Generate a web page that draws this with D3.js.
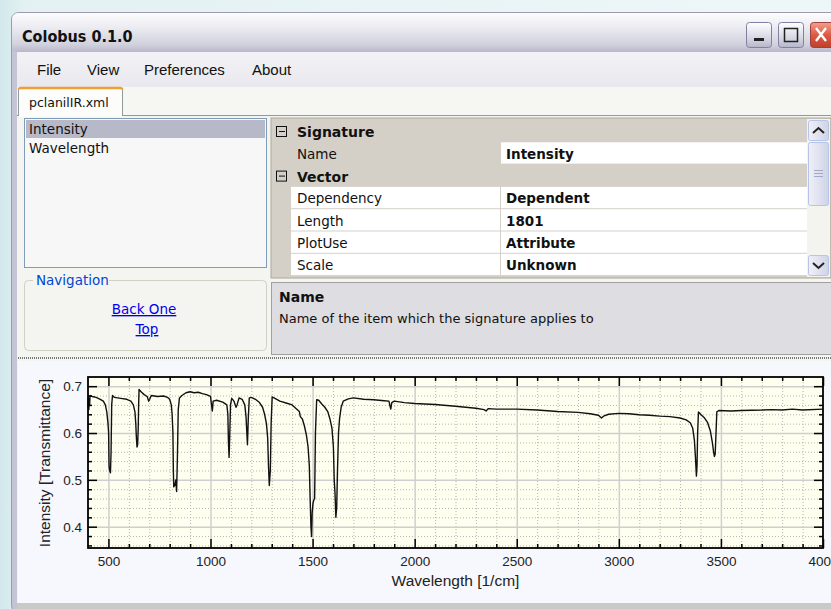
<!DOCTYPE html>
<html><head><meta charset="utf-8">
<script src="https://cdn.jsdelivr.net/npm/d3@7"></script>
<style>body{margin:0;overflow:hidden;background:#e8f4f6}svg{display:block}</style>
</head><body><svg id="c" width="831" height="609"></svg>
<script>
// ---------- data ----------
const wavenumbers = [400,402,404,406,408,410,420,440,460,475,485,492,498,501,503,506,510,513,516,520,530,560,590,610,622,630,634,637,640,643,646,648,650,660,675,690,697,702,710,740,770,790,800,808,812,816,818,820,826,830,834,838,842,848,860,880,900,920,940,960,980,1000,1005,1009,1013,1030,1060,1080,1085,1088,1091,1094,1098,1104,1115,1125,1130,1140,1155,1168,1174,1178,1181,1185,1190,1200,1220,1240,1255,1265,1274,1280,1284,1288,1293,1297,1302,1320,1340,1370,1400,1420,1435,1440,1450,1460,1470,1478,1484,1488,1492,1495,1498,1502,1506,1510,1514,1520,1530,1545,1560,1575,1585,1595,1602,1606,1610,1614,1618,1622,1627,1632,1640,1650,1675,1700,1750,1800,1850,1874,1879,1883,1888,1900,1950,2000,2100,2200,2300,2340,2350,2360,2400,2500,2600,2700,2800,2860,2900,2915,2925,2950,3000,3050,3100,3150,3200,3250,3300,3330,3350,3362,3370,3375,3380,3383,3386,3390,3400,3420,3435,3448,3458,3464,3468,3472,3476,3480,3490,3550,3600,3700,3750,3800,3850,3900,4000];
const intensity = [0.655,0.675,0.650,0.672,0.660,0.680,0.678,0.676,0.672,0.668,0.660,0.645,0.620,0.600,0.530,0.520,0.515,0.560,0.660,0.680,0.676,0.674,0.672,0.668,0.660,0.645,0.620,0.590,0.570,0.575,0.610,0.660,0.693,0.688,0.682,0.678,0.668,0.672,0.680,0.678,0.679,0.676,0.672,0.660,0.640,0.600,0.520,0.485,0.490,0.500,0.475,0.550,0.650,0.675,0.680,0.686,0.688,0.686,0.687,0.684,0.682,0.678,0.660,0.647,0.668,0.670,0.666,0.660,0.640,0.580,0.548,0.590,0.660,0.674,0.668,0.655,0.660,0.675,0.672,0.660,0.635,0.600,0.575,0.630,0.675,0.676,0.672,0.665,0.655,0.640,0.620,0.590,0.530,0.488,0.520,0.620,0.677,0.673,0.668,0.664,0.660,0.652,0.646,0.635,0.630,0.615,0.595,0.570,0.530,0.460,0.400,0.379,0.430,0.450,0.457,0.460,0.600,0.671,0.670,0.662,0.655,0.645,0.630,0.610,0.570,0.500,0.470,0.420,0.440,0.520,0.600,0.630,0.655,0.668,0.673,0.675,0.672,0.671,0.669,0.668,0.658,0.651,0.665,0.668,0.665,0.663,0.661,0.657,0.653,0.650,0.647,0.652,0.651,0.651,0.649,0.646,0.644,0.641,0.638,0.632,0.636,0.640,0.642,0.641,0.639,0.638,0.636,0.635,0.632,0.628,0.622,0.610,0.585,0.550,0.508,0.530,0.600,0.645,0.640,0.632,0.622,0.605,0.580,0.560,0.550,0.555,0.600,0.645,0.648,0.647,0.648,0.649,0.650,0.649,0.651,0.649,0.651];
const xTicks = [500,1000,1500,2000,2500,3000,3500,4000];
const yTicks = [0.4,0.5,0.6,0.7];
const xLabel = "Wavelength [1/cm]";
const yLabel = "Intensity [Transmittance]";
const menuItems = ["File","View","Preferences","About"];
const listItems = ["Intensity","Wavelength"];
const gridLabels = ["Signature","Name","Vector","Dependency","Length","PlotUse","Scale"];
const gridValues = [null,"Intensity",null,"Dependent","1801","Attribute","Unknown"];

// ---------- svg & chrome ----------
const svg = d3.select("#c");
const defs = svg.append("defs");
function grad(id, stops, vertical=true){
  const g = defs.append("linearGradient").attr("id",id)
    .attr("x1",0).attr("y1",0).attr("x2",vertical?0:1).attr("y2",vertical?1:0);
  stops.forEach(s=>g.append("stop").attr("offset",s[0]).attr("stop-color",s[1]));
}
grad("desk",[[0,"#d3e8ec"],[0.03,"#e3f1f3"],[1,"#eef7f8"]],false);
grad("title",[[0,"#fdfdfe"],[0.35,"#ececf2"],[0.8,"#d2d2de"],[1,"#b8b8ca"]]);
grad("btn",[[0,"#ffffff"],[0.6,"#d8d8e6"],[1,"#b6b6cc"]]);
grad("close",[[0,"#f3a08c"],[0.5,"#dc5a44"],[1,"#c0402c"]]);
grad("menu",[[0,"#f2f2f6"],[1,"#e8e8ee"]]);
grad("sbar",[[0,"#f0f0f8"],[1,"#cfd3e6"]],false);

svg.append("rect").attr("width",831).attr("height",609).attr("fill","url(#desk)");
// window frame
svg.append("rect").attr("x",11.5).attr("y",12.5).attr("width",830).attr("height",600).attr("rx",7)
  .attr("fill","#c4c4d4").attr("stroke","#9a9ab0");
svg.append("rect").attr("x",12).attr("y",13).attr("width",825).attr("height",39).attr("rx",6).attr("fill","url(#title)");
svg.append("text").attr("x",22).attr("y",42).text("Colobus 0.1.0")
  .attr("font-family","'DejaVu Sans Condensed','Liberation Sans',sans-serif").attr("font-weight","bold")
  .attr("font-size",16).attr("fill","#111");
// title buttons
[[746,"min"],[778,"max"]].forEach(([bx,k])=>{
  svg.append("rect").attr("x",bx+0.5).attr("y",22.5).attr("width",25).attr("height",25).attr("rx",3)
    .attr("fill","url(#btn)").attr("stroke","#8080a0");
  if(k==="min") svg.append("rect").attr("x",bx+8).attr("y",38).attr("width",10).attr("height",3).attr("fill","#222");
  else svg.append("rect").attr("x",bx+6.5).attr("y",28.5).attr("width",13).attr("height",13).attr("fill","none").attr("stroke","#222").attr("stroke-width",1.5);
});
svg.append("rect").attr("x",810.5).attr("y",22.5).attr("width",25).attr("height",25).attr("rx",3)
  .attr("fill","url(#close)").attr("stroke","#a04040");
svg.append("path").attr("d","M816,28L826,41M826,28L816,41").attr("stroke","#fff").attr("stroke-width",2.4);

// body
svg.append("rect").attr("x",17).attr("y",52).attr("width",814).attr("height",553).attr("fill","#f3f3ef");
svg.append("rect").attr("x",17).attr("y",52).attr("width",814).attr("height",35).attr("fill","url(#menu)");
const uiFont = "'DejaVu Sans',Verdana,sans-serif";
const menuX = [37,87,144,252];
menuItems.forEach((m,i)=>svg.append("text").attr("x",menuX[i]).attr("y",75).text(m)
  .attr("font-family","'Liberation Sans',Arial,sans-serif").attr("font-size",15).attr("fill","#111"));
// tab strip
svg.append("rect").attr("x",17).attr("y",87).attr("width",814).attr("height",29).attr("fill","#f6f6f3");
svg.append("line").attr("x1",17).attr("x2",831).attr("y1",115.5).attr("y2",115.5).attr("stroke","#919b9c");
svg.append("path").attr("d","M18.5,116V90Q18.5,88 20.5,88H120.5Q122.5,88 122.5,90V116").attr("fill","#fcfcfb").attr("stroke","#919b9c");
svg.append("path").attr("d","M19,89.5Q19,88 21,88H120Q122,88 122,89.5").attr("fill","none").attr("stroke","#f0a030").attr("stroke-width",2.5);
svg.append("rect").attr("x",19).attr("y",114).attr("width",103).attr("height",3).attr("fill","#fcfcfb");
svg.append("text").attr("x",29).attr("y",107).text("pclanilIR.xml")
  .attr("font-family",uiFont).attr("font-size",12.5).attr("fill","#111");
svg.append("rect").attr("x",17).attr("y",117).attr("width",814).attr("height",240).attr("fill","#f4f4f0");

// list box
svg.append("rect").attr("x",24.5).attr("y",118.5).attr("width",242).attr("height",149).attr("fill","#f7f7f7").attr("stroke","#7f9db9");
svg.append("rect").attr("x",26).attr("y",120).attr("width",239).attr("height",18).attr("fill","#b7b9c8");
listItems.forEach((t,i)=>svg.append("text").attr("x",29).attr("y",134+i*19).text(t)
  .attr("font-family",uiFont).attr("font-size",13.5).attr("fill","#111"));

// navigation group
svg.append("rect").attr("x",24.5).attr("y",280.5).attr("width",242).attr("height",70).attr("rx",4).attr("fill","none").attr("stroke","#d0d0c4");
svg.append("rect").attr("x",33).attr("y",274).attr("width",76).attr("height",12).attr("fill","#f4f4f0");
svg.append("text").attr("x",36).attr("y",285).text("Navigation").attr("font-family",uiFont).attr("font-size",13.5).attr("fill","#0046d5");
[["Back One",144,314],["Top",147,334]].forEach(([t,x,y])=>svg.append("text").attr("x",x).attr("y",y).text(t)
  .attr("text-anchor","middle").attr("font-family",uiFont).attr("font-size",13.5).attr("fill","#0000ee").attr("text-decoration","underline"));

// property grid
const gx0=271, gx1=807, gSep=500;
svg.append("rect").attr("x",gx0).attr("y",118).attr("width",560).attr("height",160).attr("fill","#d4d0c8").attr("stroke","#aca899");
gridLabels.forEach((lab,i)=>{
  const y0 = 120 + i*22.3, h=22.3, isCat = gridValues[i]===null;
  if(isCat){
    svg.append("rect").attr("x",276.5).attr("y",y0+6.5).attr("width",10).attr("height",10).attr("fill","none").attr("stroke","#111");
    svg.append("line").attr("x1",279).attr("x2",285).attr("y1",y0+11.5).attr("y2",y0+11.5).attr("stroke","#111");
    svg.append("text").attr("x",297).attr("y",y0+17).text(lab).attr("font-family",uiFont).attr("font-weight","bold").attr("font-size",14).attr("fill","#111");
  } else {
    const ro = lab==="Name";
    svg.append("rect").attr("x",291).attr("y",y0).attr("width",gSep-291).attr("height",h-1).attr("fill",ro?"#d4d0c8":"#ffffff");
    svg.append("rect").attr("x",gSep+1).attr("y",y0).attr("width",gx1-gSep-1).attr("height",h-1).attr("fill","#ffffff");
    svg.append("text").attr("x",297).attr("y",y0+16.5).text(lab).attr("font-family",uiFont).attr("font-size",13.5).attr("fill","#111");
    svg.append("text").attr("x",506).attr("y",y0+16.5).text(gridValues[i]).attr("font-family",uiFont).attr("font-weight","bold").attr("font-size",13.5).attr("fill","#111");
  }
});
// scrollbar
svg.append("rect").attr("x",807).attr("y",119).attr("width",23).attr("height",158).attr("fill","#f3f3ef");
[[808,120],[808,255]].forEach(([x,y],i)=>{
  svg.append("rect").attr("x",x+0.5).attr("y",y+0.5).attr("width",20).attr("height",20).attr("rx",2).attr("fill","url(#sbar)").attr("stroke","#b5c4e8");
  svg.append("path").attr("d", i===0?`M${x+5},${y+13}L${x+10.5},${y+8}L${x+16},${y+13}`:`M${x+5},${y+8}L${x+10.5},${y+13}L${x+16},${y+8}`)
    .attr("fill","none").attr("stroke","#222").attr("stroke-width",2);
});
svg.append("rect").attr("x",808.5).attr("y",142.5).attr("width",20).attr("height",63).attr("rx",2).attr("fill","url(#sbar)").attr("stroke","#b5c4e8");
[170,173,176].forEach(y=>svg.append("line").attr("x1",814).attr("x2",823).attr("y1",y+0.5).attr("y2",y+0.5).attr("stroke","#a0a8c8"));

// description panel
svg.append("rect").attr("x",271.5).attr("y",282.5).attr("width",560).attr("height",72).attr("fill","#dddde2").attr("stroke","#a0a0a0");
svg.append("text").attr("x",279).attr("y",302).text("Name").attr("font-family",uiFont).attr("font-weight","bold").attr("font-size",14).attr("fill","#111");
svg.append("text").attr("x",279).attr("y",323).text("Name of the item which the signature applies to").attr("font-family",uiFont).attr("font-size",13).attr("fill","#111");

// splitter
svg.append("line").attr("x1",18).attr("x2",831).attr("y1",358).attr("y2",358).attr("stroke","#777").attr("stroke-width",2).attr("stroke-dasharray","1,1");

// chart panel
svg.append("rect").attr("x",18).attr("y",361).attr("width",813).attr("height",243).attr("fill","#f7f8fd");
svg.append("rect").attr("x",17).attr("y",603).attr("width",814).attr("height",6).attr("fill","#c8cac8");

// ---------- chart ----------
const L=88, R=823, T=377, B=548;
const x = d3.scaleLinear().domain([400,4000]).range([L,R]);
const y = d3.scaleLinear().domain([0.3545,0.7196]).range([B,T]);
const g = svg.append("g");
g.append("rect").attr("x",L).attr("y",T).attr("width",R-L).attr("height",B-T).attr("fill","#fffff0");
const xMinor = d3.range(500,4000,100).filter(v=>v%500!==0);
const yMinor = d3.range(0.36,0.72,0.02).map(v=>+v.toFixed(2)).filter(v=>Math.round(v*100)%10!==0);
// minor grid
g.append("g").call(d3.axisBottom(x).tickValues(xMinor).tickSize(-(B-T)).tickFormat(""))
  .attr("transform",`translate(0,${B})`).call(a=>{a.select(".domain").remove();a.selectAll("line").attr("stroke","#b4b4b4").attr("stroke-dasharray","1,2");});
g.append("g").call(d3.axisLeft(y).tickValues(yMinor).tickSize(-(R-L)).tickFormat(""))
  .attr("transform",`translate(${L},0)`).call(a=>{a.select(".domain").remove();a.selectAll("line").attr("stroke","#b4b4b4").attr("stroke-dasharray","1,2");});
// major grid
g.append("g").call(d3.axisBottom(x).tickValues(xTicks.filter(v=>v<4000)).tickSize(-(B-T)).tickFormat(""))
  .attr("transform",`translate(0,${B})`).call(a=>{a.select(".domain").remove();a.selectAll("line").attr("stroke","#cfcfcf").attr("stroke-width",1.5);});
g.append("g").call(d3.axisLeft(y).tickValues(yTicks).tickSize(-(R-L)).tickFormat(""))
  .attr("transform",`translate(${L},0)`).call(a=>{a.select(".domain").remove();a.selectAll("line").attr("stroke","#cfcfcf").attr("stroke-width",1.5);});

// line
const pts = wavenumbers.map((w,i)=>[w,intensity[i]]);
g.append("path").datum(pts).attr("fill","none").attr("stroke","#111").attr("stroke-width",1.4)
  .attr("stroke-linejoin","round")
  .attr("d",d3.line().x(d=>x(d[0])).y(d=>y(d[1])));

// inner tick marks on all four sides
function ticks(axisFn, vals, size, tr){
  g.append("g").attr("transform",tr).call(axisFn.tickValues(vals).tickSize(size).tickFormat(""))
   .call(a=>{a.select(".domain").remove();a.selectAll("line").attr("stroke","#000").attr("stroke-width",1.5);});
}
ticks(d3.axisTop(x), xMinor, 4, `translate(0,${B})`);
ticks(d3.axisTop(x), xTicks, 9, `translate(0,${B})`);
ticks(d3.axisBottom(x), xMinor, 4, `translate(0,${T})`);
ticks(d3.axisBottom(x), xTicks, 9, `translate(0,${T})`);
ticks(d3.axisRight(y), yMinor, 4, `translate(${L},0)`);
ticks(d3.axisRight(y), yTicks, 9, `translate(${L},0)`);
ticks(d3.axisLeft(y), yMinor, 4, `translate(${R},0)`);
ticks(d3.axisLeft(y), yTicks, 9, `translate(${R},0)`);
g.append("rect").attr("x",L).attr("y",T).attr("width",R-L).attr("height",B-T).attr("fill","none").attr("stroke","#000").attr("stroke-width",1.8);

// tick labels
const lblFont="'Liberation Sans',Arial,sans-serif";
g.append("g").attr("transform",`translate(0,${B})`)
  .call(d3.axisBottom(x).tickValues(xTicks).tickSize(0).tickPadding(8).tickFormat(d3.format("d")))
  .call(a=>{a.select(".domain").remove();a.selectAll("text").attr("font-family",lblFont).attr("font-size",13.5).attr("fill","#222");});
g.append("g").attr("transform",`translate(${L},0)`)
  .call(d3.axisLeft(y).tickValues(yTicks).tickSize(0).tickPadding(6).tickFormat(d3.format(".1f")))
  .call(a=>{a.select(".domain").remove();a.selectAll("text").attr("font-family",lblFont).attr("font-size",13.5).attr("fill","#222");});
g.append("text").attr("x",(L+R)/2).attr("y",586).attr("text-anchor","middle").text(xLabel)
  .attr("font-family",lblFont).attr("font-size",15.5).attr("fill","#222");
g.append("text").attr("transform",`translate(50,${463}) rotate(-90)`).attr("text-anchor","middle").text(yLabel)
  .attr("font-family",lblFont).attr("font-size",15.5).attr("fill","#222");
</script></body></html>
